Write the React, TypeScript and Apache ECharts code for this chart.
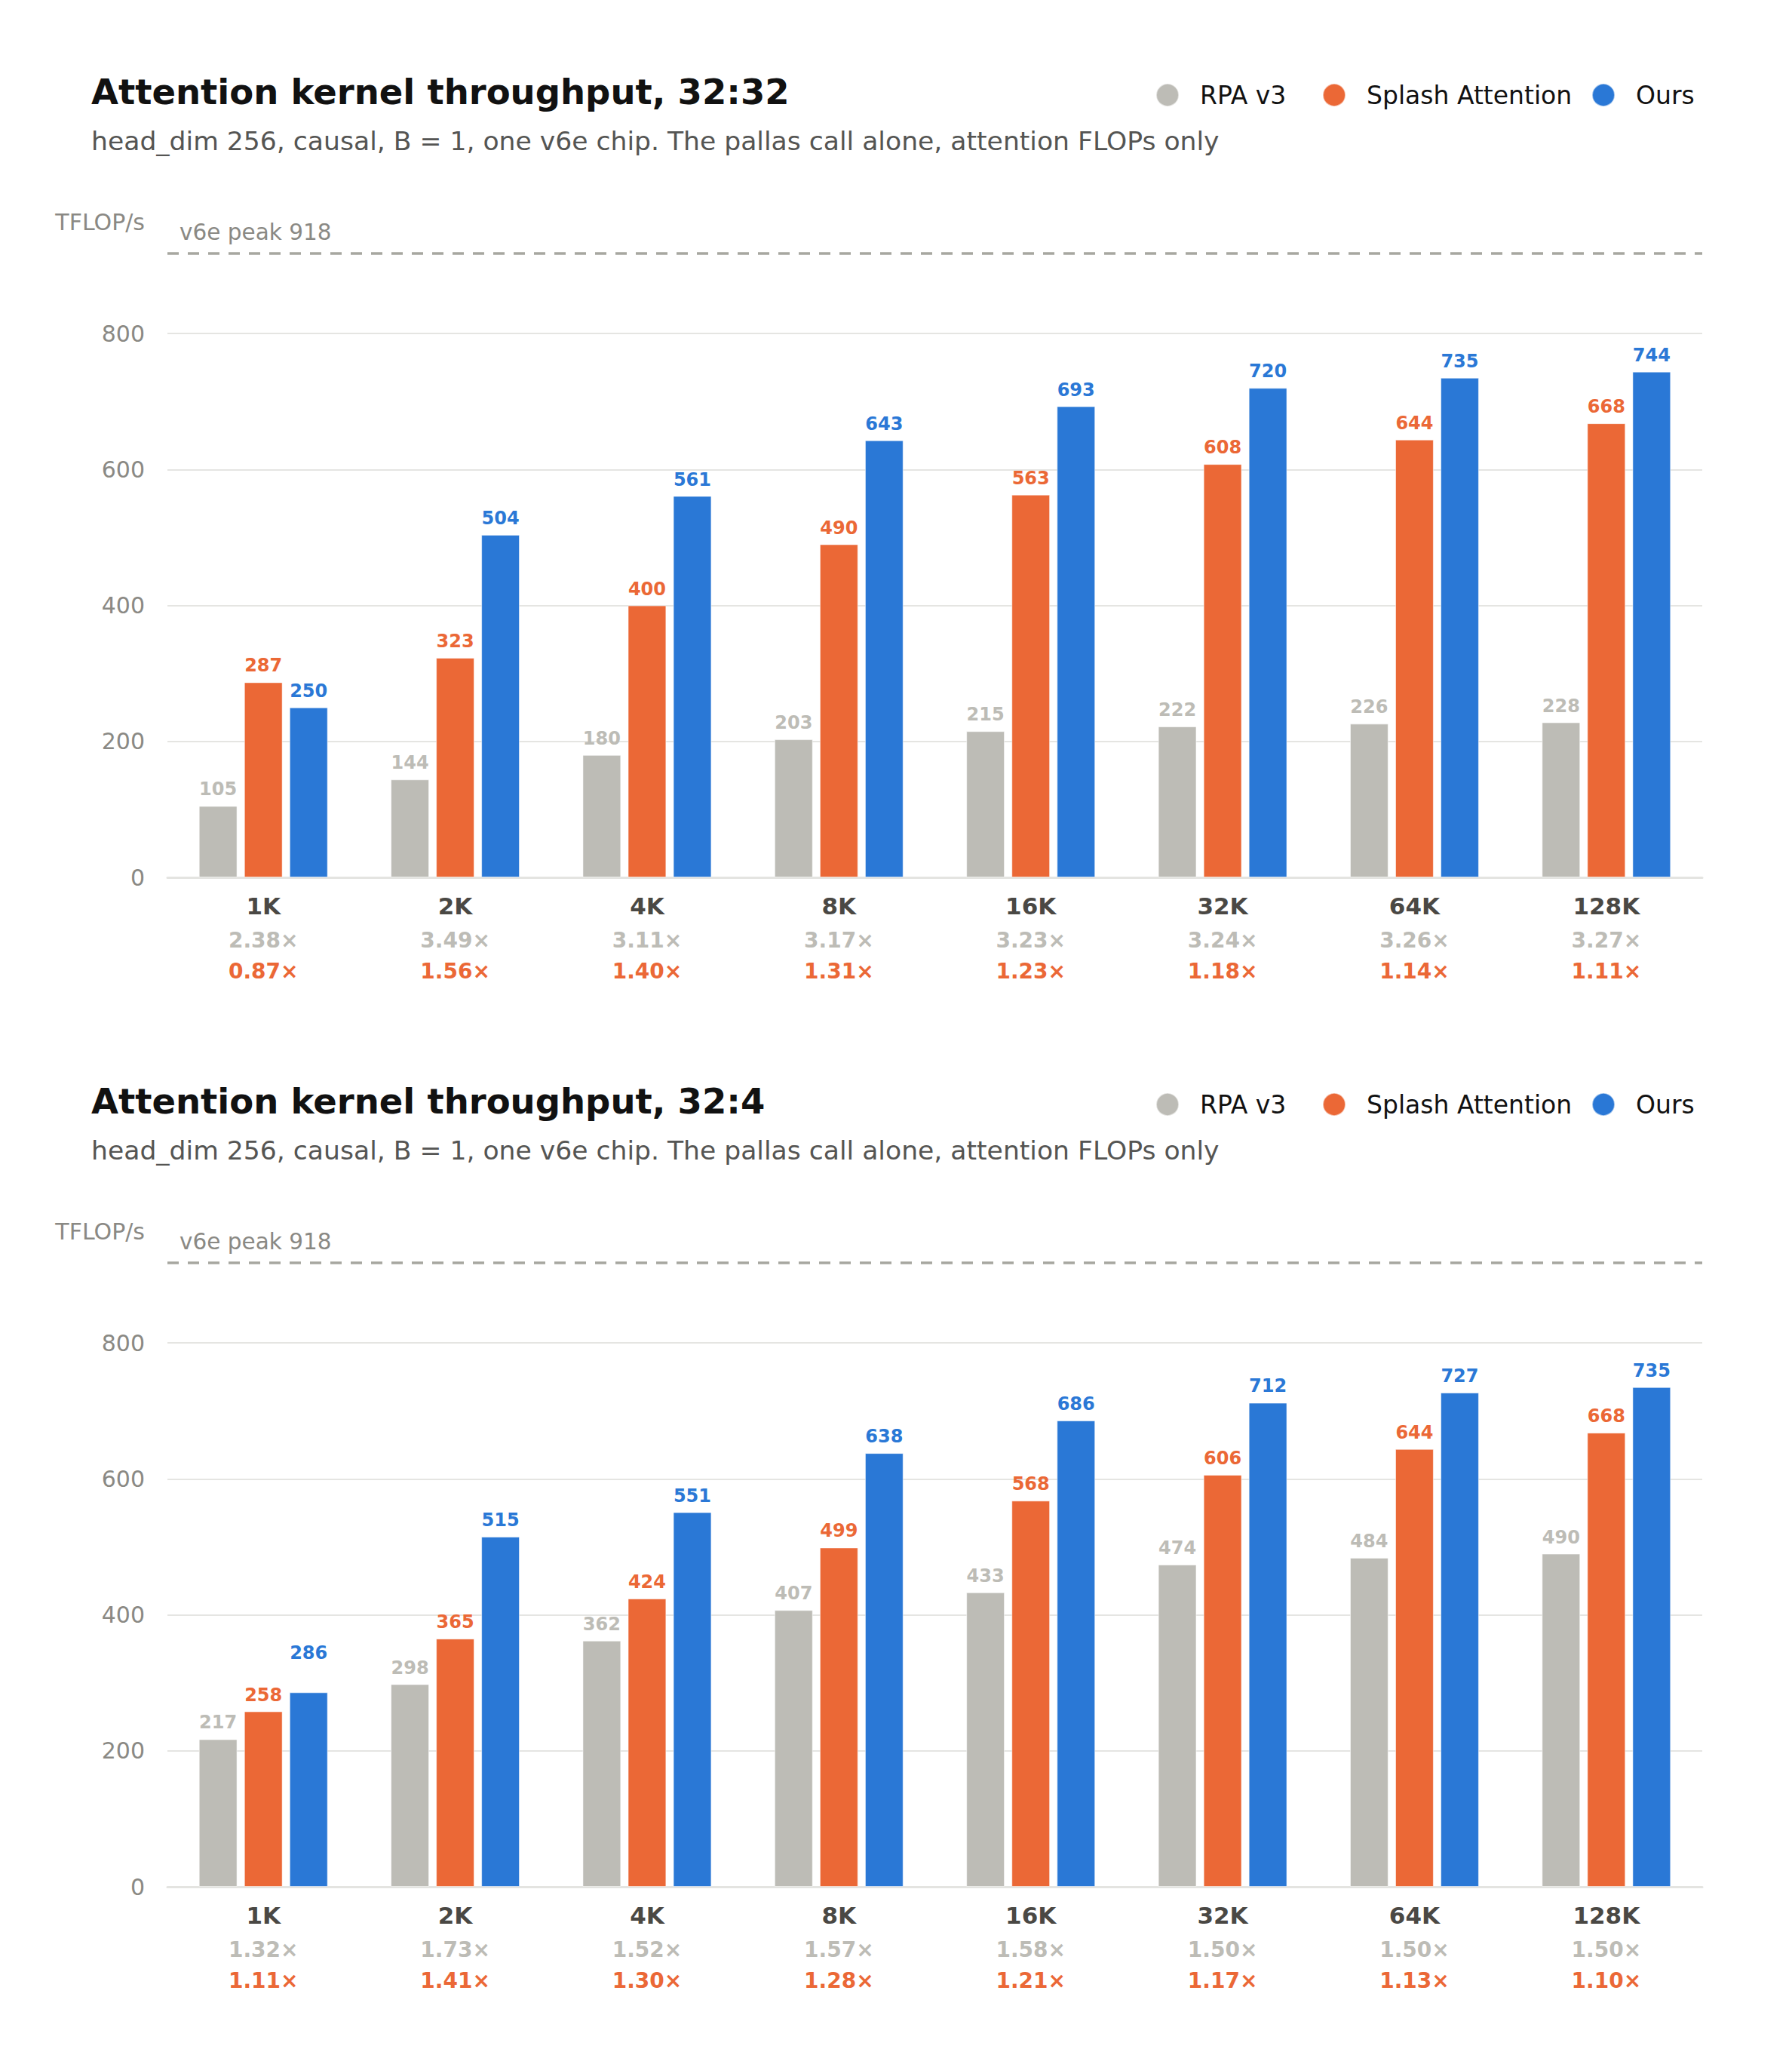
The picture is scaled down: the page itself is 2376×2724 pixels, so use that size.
import React, { useEffect, useRef } from 'react';
import * as echarts from 'echarts';

const categories = ['1K', '2K', '4K', '8K', '16K', '32K', '64K', '128K'];
const seriesNames = ['RPA v3', 'Splash Attention', 'Ours'];
const peakValue = 918;
const peakLabel = 'v6e peak 918';
const yUnit = 'TFLOP/s';
const subtitleText = 'head_dim 256, causal, B = 1, one v6e chip. The pallas call alone, attention FLOPs only';

const rpa3232 = [105, 144, 180, 203, 215, 222, 226, 228];
const splash3232 = [287, 323, 400, 490, 563, 608, 644, 668];
const ours3232 = [250, 504, 561, 643, 693, 720, 735, 744];
const vsRpa3232 = ['2.38×', '3.49×', '3.11×', '3.17×', '3.23×', '3.24×', '3.26×', '3.27×'];
const vsSplash3232 = ['0.87×', '1.56×', '1.40×', '1.31×', '1.23×', '1.18×', '1.14×', '1.11×'];

const rpa324 = [217, 298, 362, 407, 433, 474, 484, 490];
const splash324 = [258, 365, 424, 499, 568, 606, 644, 668];
const ours324 = [286, 515, 551, 638, 686, 712, 727, 735];
const vsRpa324 = ['1.32×', '1.73×', '1.52×', '1.57×', '1.58×', '1.50×', '1.50×', '1.50×'];
const vsSplash324 = ['1.11×', '1.41×', '1.30×', '1.28×', '1.21×', '1.17×', '1.13×', '1.10×'];

const FONT = "'DejaVu Sans', sans-serif";
const GRAY = '#bdbcb6';
const ORANGE = '#eb6836';
const BLUE = '#2a78d6';
const colors = [GRAY, ORANGE, BLUE];

const W = 2360;
const H = 1338;
const GRID = { left: 214, right: 111, top: 254, bottom: 183 };
const Y_MAX = 1000;
const PX_PER_UNIT = (H - GRID.top - GRID.bottom) / Y_MAX;

function labelOffsets(vals: number[], prev: number[] | null) {
  return vals.map((v, i) => {
    if (!prev) return 0;
    const sep = (v - prev[i]) * PX_PER_UNIT;
    return v > prev[i] && sep < 30 ? -(56 - sep) : 0;
  });
}

type Props = {
  title: string;
  rpa: number[];
  splash: number[];
  ours: number[];
  vsRpa: string[];
  vsSplash: string[];
};

function ThroughputChart({ title, rpa, splash, ours, vsRpa, vsSplash }: Props) {
  const ref = useRef<HTMLDivElement>(null);
  useEffect(() => {
    if (!ref.current) return;
    const chart = echarts.init(ref.current, undefined, { renderer: 'svg' });
    const all = [rpa, splash, ours];
    const series: any[] = all.map((vals, si) => {
      const offs = labelOffsets(vals, si > 0 ? all[si - 1] : null);
      return {
        type: 'bar',
        name: seriesNames[si],
        barWidth: '20%',
        barGap: '18%',
        itemStyle: { color: colors[si], borderColor: 'rgba(255,255,255,0.55)', borderWidth: 1 },
        label: {
          show: true,
          position: 'top',
          distance: 10,
          fontFamily: FONT,
          fontSize: 24,
          fontWeight: 'bold',
          color: colors[si],
        },
        data: vals.map((v, i) => (offs[i] ? { value: v, label: { offset: [0, offs[i]] } } : v)),
      };
    });
    series[0].markLine = {
      silent: true,
      symbol: 'none',
      data: [{ yAxis: peakValue }],
      lineStyle: { type: [15, 12], color: '#a7a7a0', width: 3.5 },
      label: {
        show: true,
        position: 'insideStartTop',
        formatter: peakLabel,
        fontFamily: FONT,
        fontSize: 29.5,
        color: '#8a8984',
        distance: 13,
        padding: [0, 0, 0, 3],
      },
    };
    const legendLefts = [1524, 1745, 2102];
    chart.setOption({
      animation: false,
      textStyle: { fontFamily: FONT },
      legend: seriesNames.map((n, i) => ({
        data: [n],
        left: legendLefts[i],
        top: 101,
        icon: 'circle',
        itemWidth: 30,
        itemHeight: 30,
        padding: 0,
        selectedMode: false,
        textStyle: { fontFamily: FONT, fontSize: 33, color: '#111111', padding: [0, 0, 0, 23], lineHeight: 34 },
      })),
      graphic: [
        {
          type: 'text',
          left: 113,
          top: 117 - 27,
          style: { text: title, font: `bold 46.5px ${FONT}`, fill: '#111111' },
        },
        {
          type: 'text',
          left: 113,
          top: 181 - 20,
          style: { text: subtitleText, font: `34.6px ${FONT}`, fill: '#555553' },
        },
        {
          type: 'text',
          right: W - 184,
          top: 288 - 17,
          style: { text: yUnit, font: `30px ${FONT}`, fill: '#8a8984' },
        },
      ],
      grid: GRID,
      xAxis: {
        type: 'category',
        data: categories,
        axisTick: { show: false },
        axisLine: { lineStyle: { color: '#e4e4e1', width: 3 } },
        axisLabel: {
          interval: 0,
          margin: 12,
          formatter: (value: string, index: number) =>
            `{c|${value}}\n{r|${vsRpa[index]}}\n{s|${vsSplash[index]}}`,
          rich: {
            c: { fontFamily: FONT, fontSize: 31, fontWeight: 'bold', color: '#4a4844', lineHeight: 51 },
            r: { fontFamily: FONT, fontSize: 28, fontWeight: 'bold', color: GRAY, lineHeight: 41 },
            s: { fontFamily: FONT, fontSize: 28, fontWeight: 'bold', color: ORANGE, lineHeight: 41 },
          },
        },
      },
      yAxis: {
        type: 'value',
        min: 0,
        max: Y_MAX,
        interval: 200,
        axisLine: { show: false },
        axisTick: { show: false },
        axisLabel: {
          margin: 30,
          fontFamily: FONT,
          fontSize: 30,
          color: '#8a8984',
          formatter: (v: number) => (v >= Y_MAX ? '' : String(v)),
        },
        splitLine: { showMaxLine: false, lineStyle: { color: '#e5e5e2', width: 2 } },
      },
      series,
    });
    return () => chart.dispose();
  }, [title, rpa, splash, ours, vsRpa, vsSplash]);
  return <div ref={ref} style={{ width: W, height: H }} />;
}

export default function App() {
  return (
    <div style={{ background: '#ffffff' }}>
      <ThroughputChart
        title="Attention kernel throughput, 32:32"
        rpa={rpa3232}
        splash={splash3232}
        ours={ours3232}
        vsRpa={vsRpa3232}
        vsSplash={vsSplash3232}
      />
      <ThroughputChart
        title="Attention kernel throughput, 32:4"
        rpa={rpa324}
        splash={splash324}
        ours={ours324}
        vsRpa={vsRpa324}
        vsSplash={vsSplash324}
      />
    </div>
  );
}
